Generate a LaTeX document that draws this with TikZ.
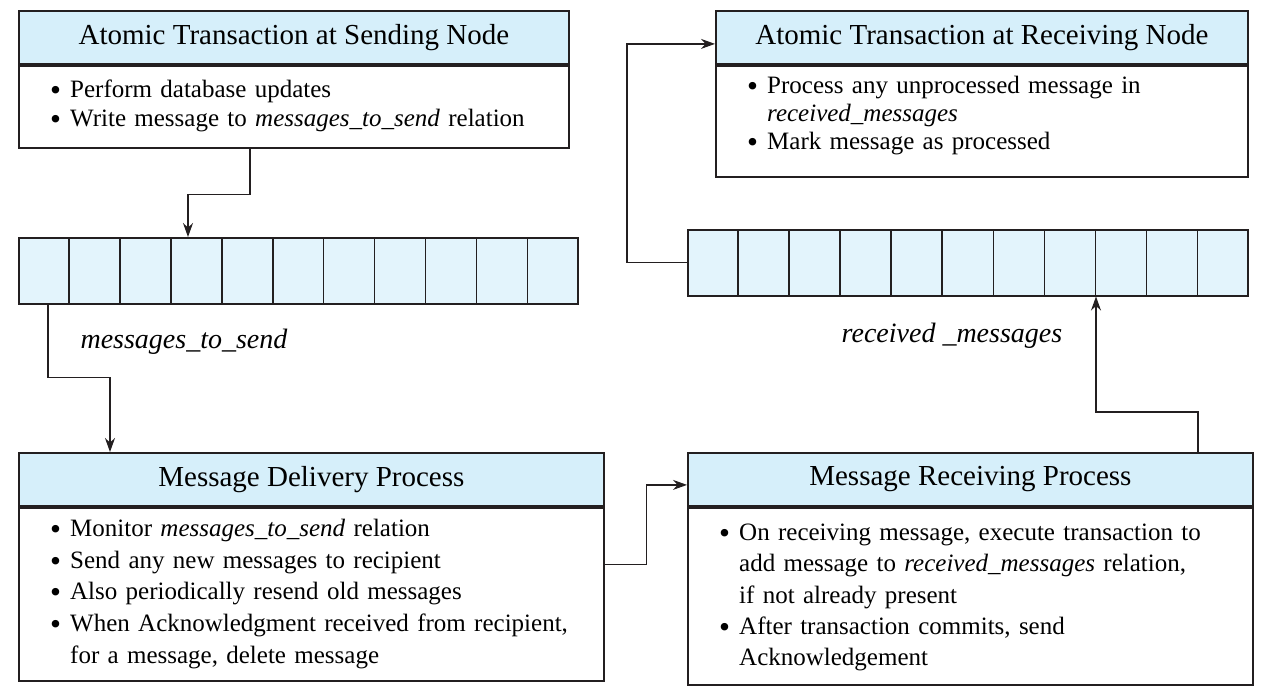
\documentclass[tikz,border=0pt]{standalone}
\usepackage{fontspec}
\setmainfont{Liberation Serif}
\usepackage{xcolor}
\usepackage{graphicx}
\usetikzlibrary{calc,arrows.meta}
\definecolor{headblue}{RGB}{214,239,250}
\definecolor{cellblue}{RGB}{227,244,252}
\definecolor{linegray}{RGB}{35,31,32}
\newcommand{\bitem}{\makebox[20pt][l]{\raisebox{-3pt}{\scalebox{1.25}{\textbullet}}}}
\newcommand{\bcont}{\hspace*{20pt}}

\begin{document}
\begin{tikzpicture}[x=1pt,y=-1pt]
\useasboundingbox (0,0) rectangle (1270,694);
% Styles: box headers, box bodies, body texts, queues and arrows
\tikzstyle{head box}=[draw=linegray,line width=1.8pt,fill=headblue,anchor=north west,inner sep=0pt,minimum height=53,font={\fontsize{29}{34}\selectfont}];
\tikzstyle{body box}=[draw=linegray,line width=1.8pt,fill=white,anchor=north,inner sep=0pt];
\tikzstyle{body text}=[anchor=north west,inner sep=0pt,align=left];
\tikzstyle{queue}=[draw=linegray,line width=1.5pt,fill=cellblue,anchor=north west,inner sep=0pt,minimum height=66];
\tikzstyle{queue label}=[font={\fontsize{28}{32}\selectfont\itshape}];
\tikzstyle{arr}=[draw=linegray,line width=1.3pt,-{Stealth[length=14pt,width=10pt]}];
% Sending node transaction
\node[head box,minimum width=550](sendh) at (18,10) {Atomic Transaction at Sending Node};
\node[body box,minimum width=550,minimum height=82](sendb) at (sendh.south) {};
\node[body text,text width=486,font={\fontsize{25}{29}\selectfont}](sendt) at ([xshift=32pt,yshift=-15pt]sendb.north west)
{\bitem Perform database updates\\
\bitem Write message to \textit{messages\_to\_send} relation};
% Receiving node transaction
\node[head box,minimum width=532](atrh) at (715,10) {Atomic Transaction at Receiving Node};
\node[body box,minimum width=532,minimum height=111](atrb) at (atrh.south) {};
\node[body text,text width=468,font={\fontsize{25}{28}\selectfont}](atrt) at ([xshift=32pt,yshift=-11.5pt]atrb.north west)
{\bitem Process any unprocessed message in\\
\bcont\textit{received\_messages}\\
\bitem Mark message as processed};
% The two queues
\node[queue,minimum width=559](sendq) at (18,237) {};
\node[queue,minimum width=560](recvq) at (687,229) {};
\foreach \i in {1,...,10}{
\draw[linegray,line width=1.5pt] ($(sendq.north west)!\i/11!(sendq.north east)$) -- ($(sendq.south west)!\i/11!(sendq.south east)$);
\draw[linegray,line width=1.5pt] ($(recvq.north west)!\i/11!(recvq.north east)$) -- ($(recvq.south west)!\i/11!(recvq.south east)$);
}
\node[queue label](sendlbl) at (184,342) {messages\_to\_send};
\node[queue label](recvlbl) at (952,336) {received \_messages};
% Delivery process
\node[head box,minimum width=585](delh) at (18,452) {Message Delivery Process};
\node[body box,minimum width=585,minimum height=173](delb) at (delh.south) {};
\node[body text,text width=521,font={\fontsize{25}{31.7}\selectfont}](delt) at ([xshift=32pt,yshift=-12pt]delb.north west)
{\bitem Monitor \textit{messages\_to\_send} relation\\
\bitem Send any new messages to recipient\\
\bitem Also periodically resend old messages\\
\bitem When Acknowledgment received from recipient,\\
\bcont for a message, delete message};
% Receiving process
\node[head box,minimum width=565](rech) at (687,452) {Message Receiving Process};
\node[body box,minimum width=565,minimum height=177](recb) at (rech.south) {};
\node[body text,text width=501,font={\fontsize{25}{31.3}\selectfont}](rect) at ([xshift=32pt,yshift=-17pt]recb.north west)
{\bitem On receiving message, execute transaction to\\
\bcont add message to \textit{received\_messages} relation,\\
\bcont if not already present\\
\bitem After transaction commits, send\\
\bcont Acknowledgement};
% Arrows
\draw[arr] ([xshift=232pt]sendb.south west) -- ++(0,46) -| ([xshift=170pt]sendq.north west);
\draw[arr] ([xshift=30pt]sendq.south west) -- ++(0,73) -| ([xshift=92pt]delh.north west);
\draw[arr] ([yshift=29.5pt]delb.east) -- ++(42,0) |- ([yshift=-5.5pt]rech.west);
\draw[arr] ([xshift=511pt]rech.north west) -- ++(0,-40) -| ([xshift=409pt]recvq.south west);
\draw[arr] (recvq.west) -- ++(-60,0) |- ([yshift=-6.5pt]atrh.west);
\end{tikzpicture}
\end{document}
